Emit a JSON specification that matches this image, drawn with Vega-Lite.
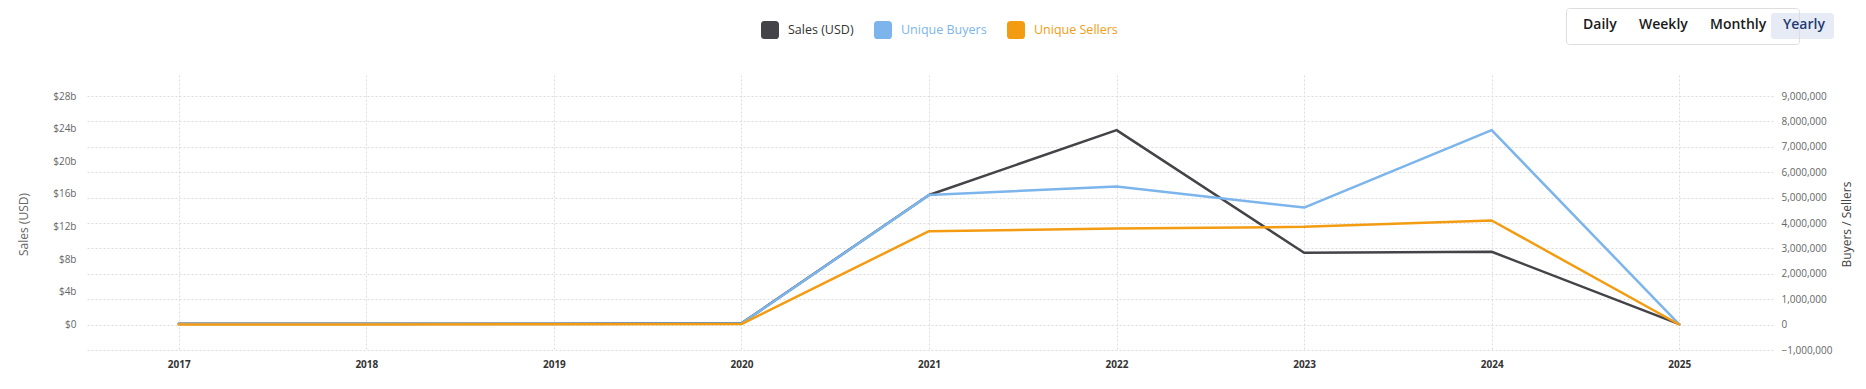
{
  "$schema": "https://vega.github.io/schema/vega-lite/v6.json",
  "width": 1688,
  "height": 275,
  "autosize": {"type": "none"},
  "padding": {"left": 85, "top": 75, "right": 93, "bottom": 39},
  "background": "white",
  "config": {
    "view": {"stroke": null},
    "font": "Open Sans",
    "axis": {"labelFont": "Open Sans", "titleFont": "Open Sans"},
    "legend": {"labelFont": "Open Sans"}
  },
  "datasets": {
    "series": [
      {"year": "2017", "series": "Sales (USD)", "value": 60000000},
      {"year": "2018", "series": "Sales (USD)", "value": 60000000},
      {"year": "2019", "series": "Sales (USD)", "value": 70000000},
      {"year": "2020", "series": "Sales (USD)", "value": 120000000},
      {"year": "2021", "series": "Sales (USD)", "value": 15860000000},
      {"year": "2022", "series": "Sales (USD)", "value": 23820000000},
      {"year": "2023", "series": "Sales (USD)", "value": 8780000000},
      {"year": "2024", "series": "Sales (USD)", "value": 8900000000},
      {"year": "2025", "series": "Sales (USD)", "value": 20000000},
      {"year": "2017", "series": "Unique Buyers", "value": 20000},
      {"year": "2018", "series": "Unique Buyers", "value": 20000},
      {"year": "2019", "series": "Unique Buyers", "value": 25000},
      {"year": "2020", "series": "Unique Buyers", "value": 40000},
      {"year": "2021", "series": "Unique Buyers", "value": 5100000},
      {"year": "2022", "series": "Unique Buyers", "value": 5440000},
      {"year": "2023", "series": "Unique Buyers", "value": 4610000},
      {"year": "2024", "series": "Unique Buyers", "value": 7660000},
      {"year": "2025", "series": "Unique Buyers", "value": 10000},
      {"year": "2017", "series": "Unique Sellers", "value": 8000},
      {"year": "2018", "series": "Unique Sellers", "value": 8000},
      {"year": "2019", "series": "Unique Sellers", "value": 10000},
      {"year": "2020", "series": "Unique Sellers", "value": 20000},
      {"year": "2021", "series": "Unique Sellers", "value": 3680000},
      {"year": "2022", "series": "Unique Sellers", "value": 3780000},
      {"year": "2023", "series": "Unique Sellers", "value": 3850000},
      {"year": "2024", "series": "Unique Sellers", "value": 4100000},
      {"year": "2025", "series": "Unique Sellers", "value": 5000}
    ],
    "periods": [
      {"period": "Daily"},
      {"period": "Weekly"},
      {"period": "Monthly"},
      {"period": "Yearly"}
    ],
    "active": [
      {"selected": "Yearly"}
    ]
  },
  "layer": [
    {
      "data": {"name": "series"},
      "transform": [{"filter": "datum.series === 'Sales (USD)'"}],
      "mark": {"type": "line", "strokeWidth": 2.5, "strokeCap": "round", "strokeJoin": "round"},
      "encoding": {
        "x": {
          "field": "year", "type": "ordinal",
          "scale": {"type": "point", "padding": 0.5},
          "axis": {
            "title": null, "labelAngle": 0, "ticks": false, "domain": false,
            "labelPadding": 9, "labelFontSize": 10, "labelFontWeight": "bold", "labelColor": "#333",
            "grid": true, "gridColor": "#dcdcdc", "gridDash": [2, 2], "gridWidth": 1
          }
        },
        "y": {
          "field": "value", "type": "quantitative",
          "scale": {"domain": [-3150000000, 30580000000], "nice": false, "zero": false},
          "axis": {
            "orient": "left", "title": "Sales (USD)", "grid": false, "ticks": false, "domain": false,
            "values": [0, 4000000000, 8000000000, 12000000000, 16000000000, 20000000000, 24000000000, 28000000000],
            "labelExpr": "datum.value == 0 ? '$0' : '$' + format(datum.value / 1000000000, 'd') + 'b'",
            "labelPadding": 9, "labelFontSize": 10, "labelColor": "#666",
            "titleFontSize": 12, "titleFontWeight": "normal", "titleColor": "#666",
            "titleAngle": 270, "titleX": -62, "titleY": 149, "titleAlign": "center", "titleBaseline": "middle"
          }
        },
        "color": {
          "field": "series", "type": "nominal",
          "scale": {"domain": ["Sales (USD)", "Unique Buyers", "Unique Sellers"], "range": ["#434348", "#7cb5ec", "#f39c12"]},
          "legend": {
            "title": null, "orient": "none", "legendX": 676, "legendY": -54, "direction": "horizontal",
            "padding": 0, "columnPadding": 20,
            "symbolType": "M-1,-0.6 Q-1,-1 -0.6,-1 L0.6,-1 Q1,-1 1,-0.6 L1,0.6 Q1,1 0.6,1 L-0.6,1 Q-1,1 -1,0.6 Z",
            "symbolSize": 324, "labelOffset": 9, "labelFontSize": 12.5, "labelColor": "#333",
            "encode": {
              "symbols": {"update": {"fill": {"signal": "scale('color', datum.value)"}, "strokeWidth": {"value": 0}, "opacity": {"value": 1}}},
              "labels": {"update": {"fill": {"signal": "datum.value === 'Sales (USD)' ? '#333333' : scale('color', datum.value)"}}}
            }
          }
        }
      }
    },
    {
      "data": {"name": "series"},
      "transform": [{"filter": "datum.series !== 'Sales (USD)'"}],
      "mark": {"type": "line", "strokeWidth": 2.5, "strokeCap": "round", "strokeJoin": "round"},
      "encoding": {
        "x": {"field": "year", "type": "ordinal"},
        "y": {
          "field": "value", "type": "quantitative",
          "scale": {"domain": [-1000000, 9830000], "nice": false, "zero": false},
          "axis": {
            "orient": "right", "title": "Buyers / Sellers", "ticks": false, "domain": false,
            "values": [-1000000, 0, 1000000, 2000000, 3000000, 4000000, 5000000, 6000000, 7000000, 8000000, 9000000],
            "format": ",d",
            "grid": true, "gridColor": "#dcdcdc", "gridDash": [2, 2], "gridWidth": 1,
            "labelPadding": 8, "labelFontSize": 10, "labelColor": "#666",
            "titleFontSize": 12, "titleFontWeight": "normal", "titleColor": "#444",
            "titleAngle": 270, "titleX": 73, "titleY": 149, "titleAlign": "center", "titleBaseline": "middle"
          }
        },
        "color": {"field": "series", "type": "nominal"}
      }
    },
    {
      "data": {"name": "active"},
      "mark": {"type": "point", "size": 0, "strokeWidth": 0, "filled": true, "color": "transparent"},
      "encoding": {
        "shape": {
          "field": "selected", "type": "nominal",
          "scale": {"domain": ["Yearly"], "range": ["M-4,-13 L46,-13 L46,9 L-4,9 Z"]},
          "legend": {
            "title": null, "orient": "none", "legendX": 1686, "legendY": -62, "direction": "horizontal",
            "padding": 5, "fillColor": "#e6ebf5", "cornerRadius": 3,
            "symbolSize": 4, "symbolOffset": 0, "labelOffset": -7, "symbolStrokeWidth": 0,
            "symbolFillColor": "transparent", "symbolStrokeColor": "transparent",
            "labelFontSize": 14, "labelFontWeight": 600, "labelColor": "#1f3b73"
          }
        }
      }
    },
    {
      "data": {"name": "periods"},
      "mark": {"type": "point", "size": 0, "strokeWidth": 0, "filled": true},
      "encoding": {
        "fill": {
          "field": "period", "type": "nominal",
          "scale": {"domain": ["Daily", "Weekly", "Monthly", "Yearly"], "range": ["transparent", "transparent", "transparent", "transparent"]},
          "legend": {
            "title": null, "orient": "none", "legendX": 1481, "legendY": -67, "direction": "horizontal",
            "padding": 10, "columnPadding": 15, "rowPadding": 0,
            "strokeColor": "#dddddd", "cornerRadius": 3,
            "symbolSize": 4, "symbolOffset": 0, "labelOffset": -7, "symbolStrokeWidth": 0,
            "symbolType": "M-5,-13 L-5,9",
            "labelExpr": "datum.value === 'Yearly' ? '\u00a0\u00a0\u00a0\u00a0\u00a0\u00a0\u00a0\u00a0\u00a0\u00a0\u00a0\u00a0\u00a0\u00a0\u00a0' : datum.label",
            "labelFontSize": 14, "labelFontWeight": 600, "labelColor": "#1a1a1a"
          }
        }
      }
    }
  ],
  "resolve": {"scale": {"y": "independent"}}
}
